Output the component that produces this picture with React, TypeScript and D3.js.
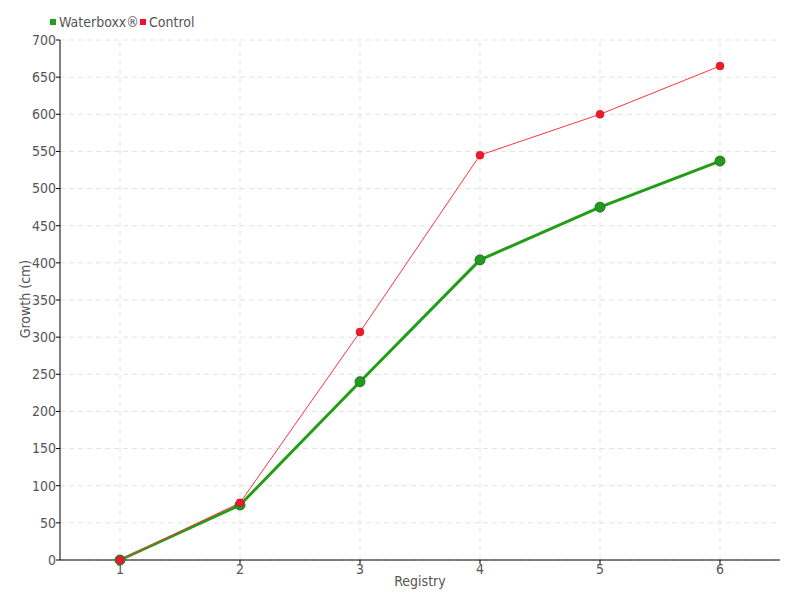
import React from "react";
import * as d3 from "d3";

const categories = ["1", "2", "3", "4", "5", "6"];
const waterboxx = [0, 74, 240, 404, 475, 537];
const control = [0, 77, 307, 545, 600, 665];
const yTicks = [0, 50, 100, 150, 200, 250, 300, 350, 400, 450, 500, 550, 600, 650, 700];

const W = 800, H = 600;
const M = { left: 60, right: 20, top: 40, bottom: 40 };
const FONT = "'Liberation Sans Narrow', 'DejaVu Sans Condensed', 'Roboto Condensed', sans-serif";

export default function App() {
  const x = d3.scalePoint<string>().domain(categories).range([M.left, W - M.right]).padding(0.5);
  const y = d3.scaleLinear().domain([0, 700]).range([H - M.bottom, M.top]);
  const line = d3.line<number>().x((_, i) => x(categories[i]) as number).y((d) => y(d));
  const x0 = M.left, x1 = W - M.right, y0 = H - M.bottom, y1 = M.top;
  return (
    <svg width={W} height={H} style={{ position: "absolute", left: 0, top: 0, background: "#fff" }} fontFamily={FONT}>
      {yTicks.map((t) => (
        <line key={"gy" + t} x1={x0} x2={x1} y1={y(t)} y2={y(t)} stroke="#e2e2e2" strokeDasharray="5,4" />
      ))}
      {categories.map((c) => (
        <line key={"gx" + c} x1={x(c)} x2={x(c)} y1={y0} y2={y1} stroke="#e2e2e2" strokeDasharray="5,4" />
      ))}
      <line x1={x0} x2={x0} y1={y0} y2={y1} stroke="#000" />
      <line x1={x0} x2={x1} y1={y0} y2={y0} stroke="#000" />
      {yTicks.map((t) => (
        <g key={"ty" + t}>
          <line x1={x0 - 4} x2={x0} y1={y(t)} y2={y(t)} stroke="#000" />
          <text x={x0 - 4} y={y(t)} dy="0.35em" textAnchor="end" fontSize={14} fill="#555">{t}</text>
        </g>
      ))}
      {categories.map((c) => (
        <g key={"tx" + c}>
          <line x1={x(c)} x2={x(c)} y1={y0} y2={y0 + 4} stroke="#000" />
          <text x={x(c)} y={y0 + 14} textAnchor="middle" fontSize={14} fill="#555">{c}</text>
        </g>
      ))}
      <text x={420} y={586} textAnchor="middle" fontSize={14} fill="#555">Registry</text>
      <text transform={`translate(30,${299}) rotate(-90)`} textAnchor="middle" fontSize={14} fill="#555">Growth (cm)</text>
      <path d={line(waterboxx) || ""} fill="none" stroke="#229e16" strokeWidth={3} strokeLinejoin="round" />
      <path d={line(control) || ""} fill="none" stroke="#ff3340" strokeWidth={1} />
      {waterboxx.map((v, i) => (
        <circle key={"w" + i} cx={x(categories[i])} cy={y(v)} r={5} fill="#229a22" stroke="#1d7a1d" strokeWidth={1} />
      ))}
      {control.map((v, i) => (
        <circle key={"c" + i} cx={x(categories[i])} cy={y(v)} r={4} fill="#ec1a2a" stroke="#d01020" strokeWidth={0.5} />
      ))}
      <rect x={50} y={19} width={6} height={6} fill="#1fa01f" />
      <text x={59} y={22} dy="0.35em" fontSize={14} fill="#555">Waterboxx®</text>
      <rect x={140} y={19} width={6} height={6} fill="#ee1133" />
      <text x={149} y={22} dy="0.35em" fontSize={14} fill="#555">Control</text>
    </svg>
  );
}
